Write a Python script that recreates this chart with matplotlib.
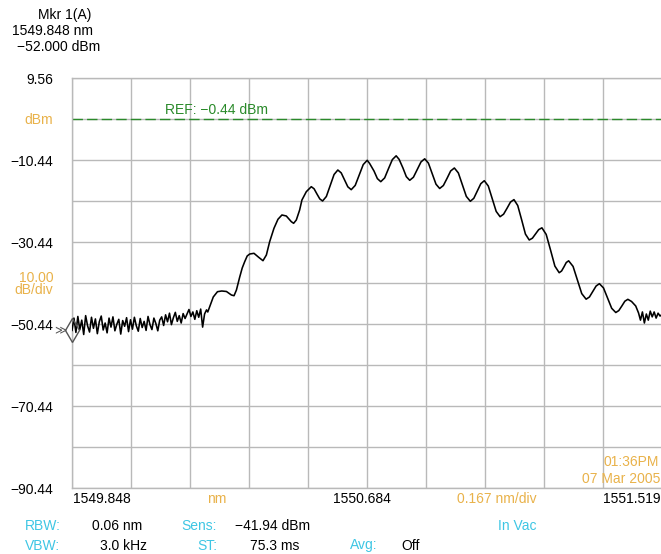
import matplotlib
matplotlib.use("Agg")

import matplotlib.pyplot as plt
import numpy as np

plt.rcParams['font.family'] = ['Liberation Sans', 'DejaVu Sans']
plt.rcParams['font.size'] = 10

# screen span
start_nm, center_nm, stop_nm = 1549.848, 1550.684, 1551.519
top_dbm, ref_dbm, bottom_dbm = 9.56, -0.44, -90.44
marker_nm, marker_dbm = 1549.848, -52.0

# noise floor on the left, sampled evenly from start_nm to 1550.229
noise_left_dbm = [
    -52.0, -49.0, -52.5, -48.6, -51.8, -49.5, -53.0, -48.4, -50.9, -52.4,
    -48.8, -51.5, -49.2, -52.8, -49.9, -48.5, -51.9, -50.2, -52.6, -49.0,
    -51.2, -48.7, -52.1, -50.5, -49.3, -52.9, -49.6, -51.0, -48.9, -52.3,
    -49.4, -51.7, -48.8, -50.9, -52.2, -49.1, -51.3, -49.8, -52.0, -48.6,
    -50.6, -51.8, -49.0, -50.3, -52.1, -49.5, -48.7,
    -50.8, -48.2, -49.9, -47.8, -50.6, -48.9, -47.6, -49.8, -48.4, -50.2,
    -47.9, -49.1, -48.0,
    -46.9, -48.6, -47.5, -49.3, -47.2, -48.8, -46.8, -51.2, -48.0, -47.0,
]
noise_left_end = 1550.229

# main spectrum (ripple on the signal)
trace_nm = [
    1550.2325, 1550.2430, 1550.2481, 1550.2600, 1550.2721, 1550.2854, 1550.2995, 1550.3069,
    1550.3137, 1550.3230, 1550.3301, 1550.3371, 1550.3442, 1550.3513, 1550.3634, 1550.3767,
    1550.3889, 1550.3985, 1550.4078, 1550.4200, 1550.4313, 1550.4426, 1550.4550, 1550.4692,
    1550.4757, 1550.4833, 1550.4927, 1550.4992, 1550.5116, 1550.5257, 1550.5336, 1550.5416,
    1550.5498, 1550.5577, 1550.5684, 1550.5792, 1550.5902, 1550.6009, 1550.6105, 1550.6199,
    1550.6292, 1550.6388, 1550.6501, 1550.6614, 1550.6728, 1550.6841, 1550.6908, 1550.7033,
    1550.7129, 1550.7225, 1550.7335, 1550.7443, 1550.7553, 1550.7661, 1550.7745, 1550.7853,
    1550.7949, 1550.8045, 1550.8150, 1550.8257, 1550.8365, 1550.8469, 1550.8574, 1550.8681,
    1550.8789, 1550.8893, 1550.8998, 1550.9103, 1550.9204, 1550.9309, 1550.9422, 1550.9535,
    1550.9648, 1550.9761, 1550.9860, 1550.9959, 1551.0058, 1551.0157, 1551.0270, 1551.0381,
    1551.0494, 1551.0604, 1551.0703, 1551.0802, 1551.0898, 1551.0997, 1551.1104, 1551.1215,
    1551.1322, 1551.1430, 1551.1520, 1551.1611, 1551.1698, 1551.1789, 1551.1910, 1551.2035,
    1551.2156, 1551.2278, 1551.2346, 1551.2414, 1551.2479, 1551.2546, 1551.2671, 1551.2795,
    1551.2917, 1551.3041, 1551.3135, 1551.3231, 1551.3324, 1551.3417, 1551.3533, 1551.3649,
    1551.3765, 1551.3881, 1551.3966, 1551.4054, 1551.4138, 1551.4223, 1551.4328, 1551.4446,
    1551.4526,
]
trace_dbm = [
    -47.51, -45.00, -43.85, -42.56, -42.39, -42.51, -43.37, -43.54,
    -42.15, -38.98, -36.78, -35.24, -33.85, -33.37, -33.20, -34.17,
    -35.00, -33.61, -30.37, -27.10, -24.90, -23.85, -24.10, -25.49,
    -25.88, -25.07, -22.64, -20.20, -18.17, -16.95, -17.46, -18.71,
    -19.93, -20.44, -19.34, -16.66, -13.98, -12.88, -13.59, -15.27,
    -16.98, -17.68, -16.64, -14.10, -11.56, -10.51, -11.27, -13.12,
    -14.98, -15.73, -14.81, -12.56, -10.34, -9.42, -10.29, -12.39,
    -14.51, -15.39, -14.64, -12.78, -10.90, -10.15, -11.20, -13.78,
    -16.34, -17.39, -16.66, -14.90, -13.12, -12.39, -13.59, -16.46,
    -19.32, -20.51, -19.78, -18.00, -16.22, -15.49, -16.78, -19.88,
    -22.98, -24.27, -23.66, -22.20, -20.71, -20.10, -21.54, -25.03,
    -28.51, -29.95, -29.51, -28.46, -27.42, -26.98, -28.59, -32.46,
    -36.32, -37.93, -37.51, -36.49, -35.44, -35.03, -36.39, -39.71,
    -43.03, -44.39, -43.85, -42.51, -41.17, -40.61, -41.64, -44.12,
    -46.61, -47.64, -47.17, -46.03, -44.88, -44.42, -44.95, -46.05,
    -47.76,
]

# noise floor on the right, sampled evenly from 1551.458 to stop_nm
noise_right_dbm = [-49.5, -47.5, -50.2, -48.0, -49.5, -47.3, -48.7, -47.5, -49.0, -47.8, -48.5, -48.1]
noise_right_start = 1551.458

ytick_vals = [9.56, -0.44, -10.44, -20.44, -30.44, -40.44, -50.44, -60.44, -70.44, -80.44, -90.44]
ytick_text = ['9.56', 'dBm', '\u221210.44', '', '\u221230.44', '10.00\ndB/div',
              '\u221250.44', '', '\u221270.44', '', '\u221290.44']

ORANGE = '#e9b24a'
CYAN = '#3ec6e4'
GREEN = '#2a8a2a'
GRID = '#b9b9b9'

W, H = 661, 554
fig = plt.figure(figsize=(W / 100, H / 100), dpi=100)
ax = fig.add_axes([72 / W, 1 - 488 / H, 590 / W, 410 / H])

x_all = np.concatenate([np.linspace(start_nm, noise_left_end, len(noise_left_dbm)),
                        trace_nm,
                        np.linspace(noise_right_start, stop_nm, len(noise_right_dbm))])
y_all = np.concatenate([noise_left_dbm, trace_dbm, noise_right_dbm])
ax.plot(x_all, y_all, color='black', lw=1.15, zorder=3)

ax.axhline(ref_dbm, color=GREEN, lw=1.0, dashes=(7.5, 3), zorder=2)

# marker
ax.plot([marker_nm], [marker_dbm], marker='d', ms=12, mfc='none', mec='#555555',
        mew=1.0, clip_on=False, zorder=4)
ax.annotate('\u226b', xy=(marker_nm, marker_dbm), xytext=(-4, 0), textcoords='offset points',
            ha='right', va='center', color='#555555', fontsize=8.5, family='DejaVu Sans',
            annotation_clip=False)

ax.set_xlim(start_nm, stop_nm)
ax.set_ylim(bottom_dbm, top_dbm)
ax.set_xticks(np.linspace(start_nm, stop_nm, 11))
ax.set_xticklabels([])
ax.set_yticks(ytick_vals)
ax.set_yticklabels(ytick_text)
ax.tick_params(axis='both', length=0)
ax.tick_params(axis='y', pad=13.5)
for lab in ax.get_yticklabels():
    if lab.get_text() in ('dBm', '10.00\ndB/div'):
        lab.set_color(ORANGE)
        lab.set_linespacing(0.9)
ax.grid(True, color=GRID, lw=1.0)
ax.set_axisbelow(True)
for side in ['left', 'top', 'bottom']:
    ax.spines[side].set_color(GRID)
    ax.spines[side].set_linewidth(1.0)
ax.spines['right'].set_visible(False)


def put(x, y, s, color='black', ha='left'):
    fig.text(x / W, 1 - y / H, s, color=color, ha=ha, va='center')


# marker readout
put(38, 15, 'Mkr 1(A)')
put(12, 31, '1549.848 nm')
put(17, 47, '\u221252.000 dBm')

put(165, 110, 'REF: \u22120.44 dBm', GREEN)
put(659, 462, '01:36PM', ORANGE, 'right')
put(660, 479, '07 Mar 2005', ORANGE, 'right')

# x axis readout
put(73, 499, '1549.848')
put(217, 499, 'nm', ORANGE, 'center')
put(362, 499, '1550.684', 'black', 'center')
put(497, 499, '0.167 nm/div', ORANGE, 'center')
put(660, 499, '1551.519', 'black', 'right')

# settings
put(25, 525.5, 'RBW:', CYAN)
put(92, 525.5, '0.06 nm')
put(217, 525.5, 'Sens:', CYAN, 'right')
put(235, 525.5, '\u221241.94 dBm')
put(517, 525.5, 'In Vac', CYAN, 'center')
put(25, 545.5, 'VBW:', CYAN)
put(147, 545.5, '3.0 kHz', 'black', 'right')
put(217, 545.5, 'ST:', CYAN, 'right')
put(250, 545.5, '75.3 ms')
put(350, 545.5, 'Avg:', CYAN)
put(401, 545.5, 'Off')

fig.savefig('out.png', dpi=100)
